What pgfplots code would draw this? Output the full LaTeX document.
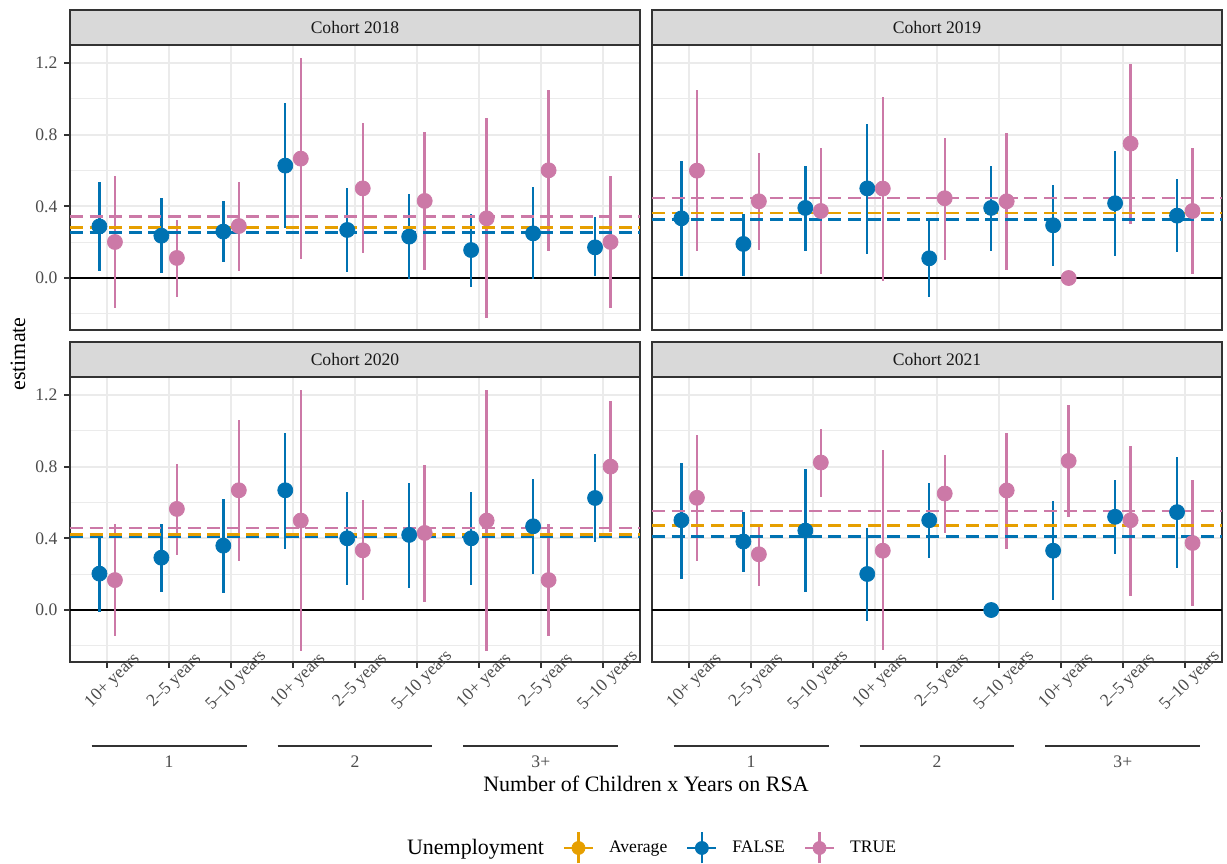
\documentclass[border=0pt]{standalone}
\usepackage{pgfplots}
\pgfplotsset{compat=1.18}
\usepackage{pgfplotstable}
\usepackage{fontspec}
\setmainfont{Liberation Serif}

\definecolor{cOrange}{HTML}{E69F00}
\definecolor{cBlue}{HTML}{0072B2}
\definecolor{cPink}{HTML}{CC79A7}
\definecolor{grey92}{gray}{0.92}
\definecolor{grey85}{gray}{0.85}
\definecolor{grey30}{gray}{0.30}
\definecolor{grey20}{gray}{0.20}
\definecolor{grey10}{gray}{0.10}

\newcommand{\smallsize}{\fontsize{8.8}{10.5}\selectfont}
\newcommand{\titlesize}{\fontsize{11}{13}\selectfont}

% x: category; f*: Unemployment = FALSE; t*: Unemployment = TRUE
% y = estimate, lo/hi = interval ends
\pgfplotstableread{
x fy flo fhi ty tlo thi
1 0.288 0.041 0.534 0.201 -0.167 0.567
2 0.236 0.026 0.448 0.112 -0.104 0.326
3 0.259 0.087 0.432 0.290 0.041 0.534
4 0.627 0.280 0.979 0.666 0.108 1.226
5 0.268 0.035 0.502 0.500 0.138 0.863
6 0.231 -0.007 0.471 0.430 0.045 0.813
7 0.156 -0.052 0.359 0.333 -0.223 0.893
8 0.249 -0.004 0.510 0.601 0.151 1.051
9 0.171 0.013 0.339 0.201 -0.167 0.567
}\cohortA
\pgfplotstableread{
x fy flo fhi ty tlo thi
1 0.333 0.009 0.653 0.599 0.149 1.047
2 0.190 0.013 0.355 0.428 0.156 0.698
3 0.391 0.151 0.623 0.374 0.024 0.724
4 0.500 0.136 0.861 0.499 -0.015 1.010
5 0.110 -0.104 0.322 0.445 0.102 0.781
6 0.391 0.151 0.623 0.428 0.043 0.809
7 0.294 0.067 0.519 0.000 0.000 0.000
8 0.417 0.123 0.707 0.750 0.303 1.193
9 0.348 0.143 0.551 0.374 0.024 0.724
}\cohortB
\pgfplotstableread{
x fy flo fhi ty tlo thi
1 0.203 -0.013 0.415 0.167 -0.145 0.478
2 0.292 0.100 0.480 0.564 0.307 0.815
3 0.359 0.095 0.621 0.668 0.272 1.060
4 0.668 0.342 0.990 0.499 -0.227 1.226
5 0.400 0.140 0.659 0.333 0.054 0.612
6 0.419 0.123 0.709 0.430 0.045 0.811
7 0.400 0.140 0.659 0.499 -0.227 1.226
8 0.467 0.203 0.731 0.167 -0.145 0.478
9 0.625 0.378 0.873 0.800 0.433 1.167
}\cohortC
\pgfplotstableread{
x fy flo fhi ty tlo thi
1 0.501 0.173 0.823 0.626 0.274 0.974
2 0.382 0.210 0.547 0.311 0.134 0.482
3 0.443 0.102 0.784 0.823 0.633 1.011
4 0.201 -0.061 0.456 0.331 -0.225 0.890
5 0.501 0.290 0.706 0.650 0.430 0.866
6 0.000 0.000 0.000 0.667 0.343 0.987
7 0.331 0.054 0.611 0.832 0.520 1.143
8 0.520 0.315 0.723 0.501 0.080 0.916
9 0.546 0.236 0.851 0.374 0.022 0.724
}\cohortD

\pgfplotsset{
  panel/.style={
    scale only axis, width=285pt, height=142.5pt, anchor=south west,
    xmin=0.4, xmax=9.6, ymin=-0.29, ymax=1.30,
    xtick={1,...,9}, ytick={0,0.4,0.8,1.2}, minor ytick={-0.2,0.2,0.6,1.0},
    xtick pos=lower, ytick pos=left,
    xmajorgrids, ymajorgrids, yminorgrids,
    major grid style={color=grey92, line width=1.07pt},
    minor grid style={color=grey92, line width=0.53pt},
    axis line style={color=grey20, line width=1.07pt},
    tick align=outside, major tick length=2.75pt, minor tick length=0pt,
    tick style={color=grey20, line width=1.07pt},
    tick label style={font=\smallsize, text=grey30},
    /pgf/number format/assume math mode=true,
    yticklabel style={/pgf/number format/fixed, /pgf/number format/fixed zerofill, /pgf/number format/precision=1},
    clip=false,
  },
  notx/.style={xticklabels={}, xtick style={draw=none}},
  noty/.style={yticklabels={}, ytick style={draw=none}},
  catx/.style={
    xticklabels={10+ years, 2--5 years, 5--10 years, 10+ years, 2--5 years, 5--10 years, 10+ years, 2--5 years, 5--10 years},
    xticklabel style={xshift=2.75pt, yshift=-6.75pt, rotate=45, anchor=center},
  },
  avgline/.style={forget plot, line width=1.2pt, dash pattern=on 6.5pt off 3.3pt},
}

% one panel: zero line, point ranges, then the three average lines
\newcommand{\panelplots}[4]{%
  \addplot[forget plot, black, line width=1.07pt] coordinates {(0.4,0) (9.6,0)};
  \addplot[forget plot, only marks, cBlue, mark=*, mark size=3.75pt,
    error bars/.cd, y dir=both, y explicit, error mark=none,
    error bar style={line width=1.2pt, cBlue}]
    table[x expr=\thisrow{x}-0.125, y=fy,
      y error plus expr=\thisrow{fhi}-\thisrow{fy},
      y error minus expr=\thisrow{fy}-\thisrow{flo}] {#1};
  \addplot[forget plot, only marks, cPink, mark=*, mark size=3.75pt,
    error bars/.cd, y dir=both, y explicit, error mark=none,
    error bar style={line width=1.2pt, cPink}]
    table[x expr=\thisrow{x}+0.125, y=ty,
      y error plus expr=\thisrow{thi}-\thisrow{ty},
      y error minus expr=\thisrow{ty}-\thisrow{tlo}] {#1};
  \addplot[avgline, cOrange] coordinates {(0.4,#2) (9.6,#2)};
  \addplot[avgline, cBlue] coordinates {(0.4,#3) (9.6,#3)};
  \addplot[avgline, cPink] coordinates {(0.4,#4) (9.6,#4)};
}

% bracket lines and labels for the number of children
\newcommand{\childgroups}{%
  \draw[grey20, line width=1pt] ({axis cs:0.75,0}|-{axis description cs:0,-0.2937}) -- ({axis cs:3.25,0}|-{axis description cs:0,-0.2937});
  \draw[grey20, line width=1pt] ({axis cs:3.75,0}|-{axis description cs:0,-0.2937}) -- ({axis cs:6.25,0}|-{axis description cs:0,-0.2937});
  \draw[grey20, line width=1pt] ({axis cs:6.75,0}|-{axis description cs:0,-0.2937}) -- ({axis cs:9.25,0}|-{axis description cs:0,-0.2937});
  \node[font=\smallsize, text=grey30] at ({axis cs:2,0}|-{axis description cs:0,-0.35}) {1};
  \node[font=\smallsize, text=grey30] at ({axis cs:5,0}|-{axis description cs:0,-0.35}) {2};
  \node[font=\smallsize, text=grey30] at ({axis cs:8,0}|-{axis description cs:0,-0.35}) {3+};
}

\begin{document}
\begin{tikzpicture}
\path[use as bounding box] (0pt,0pt) rectangle (613.5pt,431.5pt);

\begin{axis}[panel, notx, at={(35pt,266.5pt)}]
  \panelplots{\cohortA}{0.281}{0.255}{0.344}
\end{axis}

\begin{axis}[panel, notx, noty, at={(326pt,266.5pt)}]
  \panelplots{\cohortB}{0.363}{0.326}{0.447}
\end{axis}

\begin{axis}[panel, catx, at={(35pt,100.5pt)}]
  \panelplots{\cohortC}{0.422}{0.407}{0.458}
  \childgroups
\end{axis}

\begin{axis}[panel, catx, noty, at={(326pt,100.5pt)},
    legend columns=4,
    legend cell align=left,
    legend style={at={(axis description cs:-0.4561,-0.6526)}, anchor=west,
      draw=none, fill=none, inner sep=0pt, outer sep=0pt,
      font=\smallsize, text=black,
      /tikz/every odd column/.append style={column sep=5.5pt},
      /tikz/every even column/.append style={column sep=7.5pt}},
    legend image code/.code={
      \draw[#1, line width=1.07pt] (1.4pt,0pt) -- (15.9pt,0pt);
      \draw[#1, line width=1.07pt] (8.64pt,-7.75pt) -- (8.64pt,7.75pt);
      \fill[#1] (8.64pt,0pt) circle (3.25pt);
    }]
  \panelplots{\cohortD}{0.471}{0.410}{0.551}
  \childgroups
  \addlegendimage{empty legend}
  \addlegendentry{\titlesize Unemployment}
  \addlegendimage{cOrange}
  \addlegendentry{Average}
  \addlegendimage{cBlue}
  \addlegendentry{FALSE}
  \addlegendimage{cPink}
  \addlegendentry{TRUE}
\end{axis}

% facet strips
\draw[fill=grey85, draw=grey20, line width=1.07pt] (35pt,409pt) rectangle (320pt,426.5pt);
\node[font=\smallsize, text=grey10] at (177.5pt,417.75pt) {Cohort 2018};
\draw[fill=grey85, draw=grey20, line width=1.07pt] (326pt,409pt) rectangle (611pt,426.5pt);
\node[font=\smallsize, text=grey10] at (468.5pt,417.75pt) {Cohort 2019};
\draw[fill=grey85, draw=grey20, line width=1.07pt] (35pt,243pt) rectangle (320pt,260.5pt);
\node[font=\smallsize, text=grey10] at (177.5pt,251.75pt) {Cohort 2020};
\draw[fill=grey85, draw=grey20, line width=1.07pt] (326pt,243pt) rectangle (611pt,260.5pt);
\node[font=\smallsize, text=grey10] at (468.5pt,251.75pt) {Cohort 2021};

% axis titles
\node[font=\titlesize, rotate=90] at (9pt,254.5pt) {estimate};
\node[font=\titlesize] at (323pt,39.5pt) {Number of Children x Years on RSA};
\end{tikzpicture}
\end{document}
